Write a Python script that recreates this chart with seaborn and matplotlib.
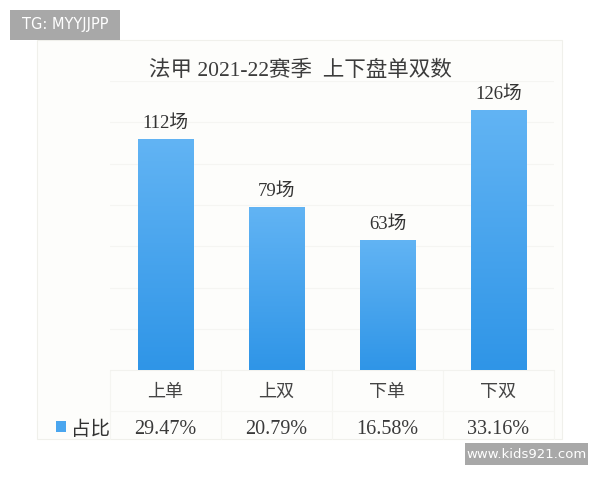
import numpy as np
import pandas as pd
import seaborn as sns
import matplotlib
import matplotlib.pyplot as plt
from matplotlib.patches import Rectangle
from matplotlib.transforms import blended_transform_factory

matplotlib.use('Agg')

# Data
categories = ['上单', '上双', '下单', '下双']
counts = [112, 79, 63, 126]
shares = ['29.47%', '20.79%', '16.58%', '33.16%']
title = '法甲 2021-22赛季  上下盘单双数'
row_label = '占比'

sns.set_theme(style='white')
plt.rcParams['font.family'] = ['Liberation Serif', 'Noto Sans CJK SC', 'DejaVu Sans']

fig = plt.figure(figsize=(6, 4.8), dpi=100)
fig.patch.set_facecolor('white')

# chart panel (light card behind everything)
fig.patches.append(Rectangle((0.0617, 0.0854), 0.875, 0.8313, transform=fig.transFigure,
                             facecolor='#fdfdfb', edgecolor='#f0f0eb', linewidth=0.8, zorder=-5))

ax = fig.add_axes([0.1833, 0.229, 0.74, 0.602])
ax.set_facecolor('none')

df = pd.DataFrame({'cat': categories, 'n': counts})
sns.barplot(data=df, x='cat', y='n', color='#3f9fee', width=0.5, saturation=1, ax=ax, zorder=2)

# vertical gradient on the bars
grad = np.linspace(0, 1, 256).reshape(-1, 1)
cmap = matplotlib.colors.LinearSegmentedColormap.from_list('bar', ['#2f95e7', '#62b4f4'])
for p in list(ax.patches):
    x0, y0 = p.get_x(), p.get_y()
    w, h = p.get_width(), p.get_height()
    im = ax.imshow(grad, cmap=cmap, origin='lower', aspect='auto',
                   extent=[x0, x0 + w, y0, y0 + h], zorder=3)
    im.set_clip_path(p)
ax.set_ylim(0, 140)
ax.set_xlim(-0.5, 3.5)

# faint grid
for v in range(20, 141, 20):
    ax.axhline(v, color='#f5f5f2', linewidth=0.8, zorder=1)

for i, n in enumerate(counts):
    ax.annotate('{0}场'.format(n), (i, n), xytext=(0, 5), textcoords='offset points',
                ha='center', va='bottom', fontsize=13.5, color='#333333')

ax.set_xticks([])
ax.set_yticks([])
ax.set_xlabel('')
ax.set_ylabel('')
for s in ax.spines.values():
    s.set_visible(False)

# data table under the bars
tr = blended_transform_factory(ax.transData, ax.transAxes)
for i, (c, s) in enumerate(zip(categories, shares)):
    ax.text(i, -0.078, c, transform=tr, ha='center', va='center', fontsize=13, color='#444444')
    ax.text(i, -0.207, s, transform=tr, ha='center', va='center', fontsize=14.5, color='#3a3a3a')
for b in [-0.5, 0.5, 1.5, 2.5, 3.5]:
    ax.plot([b, b], [0, -0.24], transform=tr, color='#f5f5f1', linewidth=0.8, clip_on=False, zorder=1)
ax.plot([-0.5, 3.5], [0, 0], transform=tr, color='#f2f2ee', linewidth=0.8, clip_on=False, zorder=1)
ax.plot([-0.5, 3.5], [-0.14, -0.14], transform=tr, color='#f6f6f3', linewidth=0.8, clip_on=False, zorder=1)

fig.patches.append(Rectangle((0.0935, 0.1), 0.0167, 0.023, transform=fig.transFigure,
                             facecolor='#4aa6ef', edgecolor='none', zorder=3))
fig.text(0.15, 0.104, row_label, ha='center', va='center', fontsize=14, color='#333333')

fig.text(0.5, 0.853, title, ha='center', va='center', fontsize=15.5, color='#3c3c3c')

# watermark boxes
fig.patches.append(Rectangle((10 / 600, 1 - 40 / 480), 110 / 600, 30 / 480, transform=fig.transFigure,
                             facecolor='#a8a8a8', edgecolor='none', zorder=4))
fig.text(65 / 600, 1 - 25 / 480, 'TG: MYYJJPP', ha='center', va='center', fontsize=10.5,
         color='white', family=['DejaVu Sans'], zorder=5)
fig.patches.append(Rectangle((465 / 600, 1 - 465 / 480), 123 / 600, 22 / 480, transform=fig.transFigure,
                             facecolor='#a8a8a8', edgecolor='none', zorder=4))
fig.text(526.5 / 600, 1 - 454 / 480, 'www.kids921.com', ha='center', va='center', fontsize=9.5,
         color='white', family=['DejaVu Sans'], zorder=5)

plt.savefig('out.png', dpi=100)
plt.close()
